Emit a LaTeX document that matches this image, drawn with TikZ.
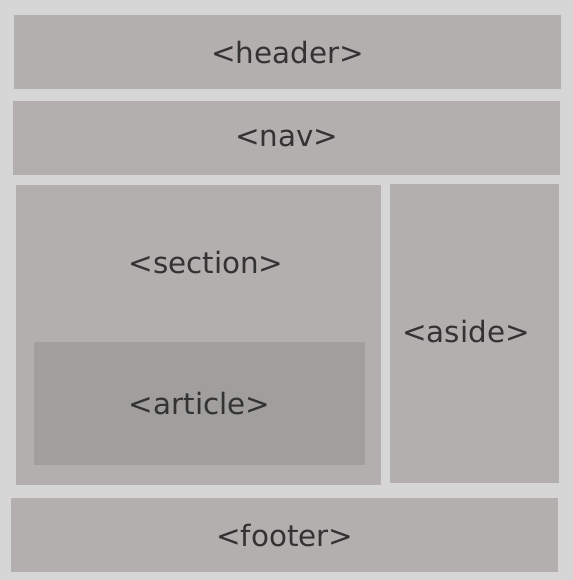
\documentclass[tikz,border=0pt]{standalone}
\usepackage{fontspec}
\setmainfont{DejaVu Sans}
\usetikzlibrary{positioning}
\definecolor{pagegray}{HTML}{D6D6D6}
\definecolor{boxgray}{HTML}{B3AFAE}
\definecolor{innergray}{HTML}{A09F9D}
\definecolor{tagtext}{HTML}{333333}
\tikzset{
  tagbox/.style={fill=boxgray, inner sep=0pt, anchor=north west,
    text=tagtext, font=\fontsize{29.5}{35}\selectfont},
  tagtitle/.style={text=tagtext, font=\fontsize{29.5}{35}\selectfont, inner sep=0pt}
}
\begin{document}
\begin{tikzpicture}[x=1bp,y=-1bp]
    \fill[pagegray] (0,0) rectangle (573,580);
    \useasboundingbox (0,0) rectangle (573,580);
    %%
    \node[tagbox, minimum width=547bp, minimum height=74bp] (header) at (14,15) {<header>};
    \node[tagbox, minimum width=547bp, minimum height=74bp] (nav) at (13,101) {<nav>};
    %%
    \node[tagbox, minimum width=365bp, minimum height=300bp] (section) at (16,185) {};
    \node[tagtitle] (sectiontitle) at (206,263) {<section>};
    \node[tagbox, fill=innergray, minimum width=331bp, minimum height=123bp] (article) at (34,342) {<article>};
    \node[tagbox, minimum width=169bp, minimum height=299bp] (aside) at (390,184) {};
    \node[tagtitle] (asidetitle) at (466,332) {<aside>};
    %%
    \node[tagbox, minimum width=547bp, minimum height=74bp] (footer) at (11,498) {<footer>};
  \end{tikzpicture}
\end{document}
